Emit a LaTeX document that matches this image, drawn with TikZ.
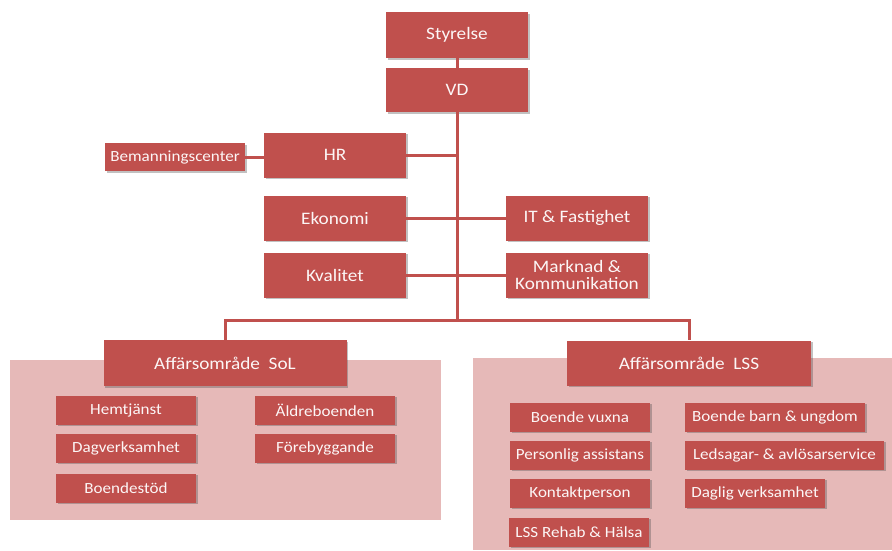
\documentclass[tikz,border=0pt]{standalone}
\usepackage{fontspec}
\setmainfont[FakeStretch=1.1]{Carlito}
\usepackage{tikz}
\usetikzlibrary{shadows}
\definecolor{orgred}{HTML}{C0504D}
\definecolor{orgpink}{HTML}{E6B9B8}
\tikzset{%
	unit/.style={rectangle,fill=orgred,text=orgred!5,inner sep=0pt,align=center,
		font=\fontsize{17.5}{17}\selectfont,
		drop shadow={shadow xshift=1.5pt,shadow yshift=-1.5pt,opacity=0.35,fill=black!70}},
	big/.style={unit,minimum width=142pt,minimum height=45pt},
	small/.style={unit,minimum width=#1,minimum height=29pt,font=\fontsize{15.5}{15.5}\selectfont},
	small/.default=140pt
}

\begin{document}
\begin{tikzpicture}[x=1pt,y=-1pt,link/.style={draw=orgred,line width=3pt}]
				\useasboundingbox (0,0) rectangle (892,550);
				\fill [orgpink] (10,360) rectangle (441,520);
				\fill [orgpink] (473,358) rectangle (892,550);
				% ledning
				\node [big, minimum height=46pt] (sty) at (457,35) {Styrelse};
				\node [big, minimum height=44pt] (vd) at (457,90) {VD};
				\node [big] (hr) at (335,155) {HR};
				\node [small, minimum height=28pt] (bem) at (175,157) {Bemanningscenter};
				\node [big] (eko) at (335,218) {Ekonomi};
				\node [big] (it) at (577,218) {IT \& Fastighet};
				\node [big] (kval) at (335,275) {Kvalitet};
				\node [big] (mark) at (577,275) {Marknad \&\\Kommunikation};
				\coordinate (bus) at (457,320);
				% affarsomraden
				\node [big, minimum width=243pt, minimum height=46pt] (sol) at (225,363) {Aff\"arsomr\aa de\ \ SoL};
				\node [big, minimum width=244pt, minimum height=45pt] (lss) at (689,363) {Aff\"arsomr\aa de\ \ LSS};
				\node [small] (hem) at (126,410) {Hemtj\"anst};
				\node [small] (dag) at (126,448) {Dagverksamhet};
				\node [small] (bst) at (126,488) {Boendest\"od};
				\node [small] (ald) at (325,410) {\"Aldreboenden};
				\node [small] (fore) at (325,448) {F\"orebyggande};
				\node [small] (vux) at (580,417) {Boende vuxna};
				\node [small] (pers) at (580,455) {Personlig assistans};
				\node [small] (kont) at (580,493) {Kontaktperson};
				\node [small] (reh) at (579,532) {LSS Rehab \& H\"alsa};
				\node [small=180pt] (barn) at (775,417) {Boende barn \& ungdom};
				\node [small=199pt] (leds) at (784.5,455) {Ledsagar- \& avl\"osarservice};
				\node [small] (dagl) at (755,493) {Daglig verksamhet};
				% linjer
				\draw [link] (sty.south) -- (vd.north);
				\draw [link] (vd.south) -- (bus);
				\draw [link] (hr.east) -- (hr.east -| bus);
				\draw [link] (bem.east) -- (bem.east -| hr.west);
				\draw [link] (eko.east) -- (it.west);
				\draw [link] (kval.east) -- (mark.west);
				\draw [link] (sol.north) |- (bus) -| (lss.north);
			\end{tikzpicture}
\end{document}
